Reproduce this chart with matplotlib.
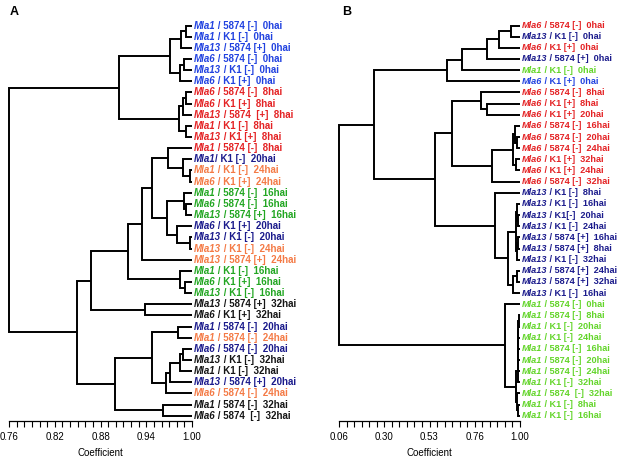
import matplotlib
matplotlib.use('Agg')
import matplotlib.pyplot as plt
from matplotlib.ticker import FixedLocator
import numpy as np

plt.rcParams['font.family'] = ['Liberation Sans', 'DejaVu Sans']

# ---- panel A: leaves top to bottom, colour by time point ----
labels_a = [
    'Mla1 / 5874 [-]  0hai', 'Mla1 / K1 [-]  0hai', 'Mla13 / 5874 [+]  0hai',
    'Mla6 / 5874 [-]  0hai', 'Mla13 / K1 [-]  0hai', 'Mla6 / K1 [+]  0hai',
    'Mla6 / 5874 [-]  8hai', 'Mla6 / K1 [+]  8hai', 'Mla13 / 5874  [+]  8hai',
    'Mla1 / K1 [-]  8hai', 'Mla13 / K1 [+]  8hai', 'Mla1 / 5874 [-]  8hai',
    'Mla1/ K1 [-]  20hai', 'Mla1 / K1 [-]  24hai', 'Mla6 / K1 [+]  24hai',
    'Mla1 / 5874 [-]  16hai', 'Mla6 / 5874 [-]  16hai', 'Mla13 / 5874 [+]  16hai',
    'Mla6 / K1 [+]  20hai', 'Mla13 / K1 [-]  20hai', 'Mla13 / K1 [-]  24hai',
    'Mla13 / 5874 [+]  24hai', 'Mla1 / K1 [-]  16hai', 'Mla6 / K1 [+]  16hai',
    'Mla13 / K1 [-]  16hai', 'Mla13 / 5874 [+]  32hai', 'Mla6 / K1 [+]  32hai',
    'Mla1 / 5874 [-]  20hai', 'Mla1 / 5874 [-]  24hai', 'Mla6 / 5874 [-]  20hai',
    'Mla13 / K1 [-]  32hai', 'Mla1 / K1 [-]  32hai', 'Mla13 / 5874 [+]  20hai',
    'Mla6 / 5874 [-]  24hai', 'Mla1 / 5874 [-]  32hai', 'Mla6 / 5874  [-]  32hai',
]
ticks_a = [0.76, 0.82, 0.88, 0.94, 1.00]
ticklabels_a = ['0.76', '0.82', '0.88', '0.94', '1.00']

# tree nodes: (coefficient, left, right), leaves are row indices
blue_a = (0.971, (0.986, (0.992, 0, 1), 2), (0.984, (0.990, 3, 4), 5))
red_a = (0.983, (0.988, (0.992, 6, 7), 8), (0.992, 9, 10))
top_a = (0.904, blue_a, red_a)
g12_a = (0.969, 11, (0.988, 12, (0.997, 13, 14)))
gn_a = (0.967, (0.989, 15, (0.992, 16, 17)), (0.980, 18, (0.997, 19, 20)))
mid_a = (0.916, (0.934, (0.947, g12_a, gn_a), 21), (0.984, 22, (0.991, 23, 24)))
upper_a = (0.868, mid_a, (0.939, 25, 26))
late_a = (0.966, (0.971, (0.984, (0.988, 29, 30), 31), 32), 33)
lower_a = (0.899, (0.948, (0.982, 27, 28), late_a), (0.962, 34, 35))
tree_a = (0.7605, top_a, (0.849, upper_a, lower_a))

# ---- panel B ----
labels_b = [
    'Mla6 / 5874 [-]  0hai', 'Mla13 / K1 [-]  0hai', 'Mla6 / K1 [+]  0hai',
    'Mla13 / 5874 [+]  0hai', 'Mla1 / K1 [-]  0hai', 'Mla6 / K1 [+]  0hai',
    'Mla6 / 5874 [-]  8hai', 'Mla6 / K1 [+]  8hai', 'Mla6 / K1 [+]  20hai',
    'Mla6 / 5874 [-]  16hai', 'Mla6 / 5874 [-]  20hai', 'Mla6 / 5874 [-]  24hai',
    'Mla6 / K1 [+]  32hai', 'Mla6 / K1 [+]  24hai', 'Mla6 / 5874 [-]  32hai',
    'Mla13 / K1 [-]  8hai', 'Mla13 / K1 [-]  16hai', 'Mla13 / K1[-]  20hai',
    'Mla13 / K1 [-]  24hai', 'Mla13 / 5874 [+]  16hai', 'Mla13 / 5874 [+]  8hai',
    'Mla13 / K1 [-]  32hai', 'Mla13 / 5874 [+]  24hai', 'Mla13 / 5874 [+]  32hai',
    'Mla13 / K1 [-]  16hai', 'Mla1 / 5874 [-]  0hai', 'Mla1 / 5874 [-]  8hai',
    'Mla1 / K1 [-]  20hai', 'Mla1 / K1 [-]  24hai', 'Mla1 / 5874 [-]  16hai',
    'Mla1 / 5874 [-]  20hai', 'Mla1 / 5874 [-]  24hai', 'Mla1 / K1 [-]  32hai',
    'Mla1 / 5874  [-]  32hai', 'Mla1 / K1 [-]  8hai', 'Mla1 / K1 [-]  16hai',
]
groups_b = ['red', 'navy', 'red', 'navy', 'lime', 'blue'] + ['red'] * 9 + ['navy'] * 10 + ['lime'] * 11
ticks_b = [0.06, 0.295, 0.53, 0.765, 1.00]
ticklabels_b = ['0.06', '0.30', '0.53', '0.76', '1.00']

early_b = (0.619, (0.697, (0.827, (0.891, (0.955, 0, 1), 2), 3), 4), 5)
red_b = (0.645, (0.796, 6, (0.827, 7, 8)),
         (0.853, (0.962, (0.975, 9, (0.985, 10, 11)), (0.980, 12, 13)), 14))
navy_b = (0.870, 15, (0.939, (0.978, (0.985, 16, (0.990, 17, 18)), (0.982, (0.990, 19, 20), 21)),
                      (0.962, (0.985, 22, 23), 24)))
chain_b = (0.988, (0.989, (0.990, (0.991, (0.992, (0.993, 26, 27), 28), 29), 30), 31), 32)
mla1_b = (0.922, 25, (0.979, chain_b, (0.985, 33, (0.990, 34, 35))))
tree_b = (0.062, (0.243, early_b, (0.558, red_b, navy_b)), mla1_b)

hai_colors = {'0hai': '#2142e0', '8hai': '#e42224', '16hai': '#22a622', '20hai': '#1b1b8c',
              '24hai': '#f47a45', '32hai': '#151515'}
group_colors = {'red': '#e42224', 'navy': '#1b1b8c', 'lime': '#63d52a', 'blue': '#2142e0'}
colors_a = [hai_colors[s.split()[-1]] for s in labels_a]
colors_b = [group_colors[g] for g in groups_b]


def draw_tree(ax, node):
    if isinstance(node, int):
        return float(node), 1.0
    h, left, right = node
    y1, x1 = draw_tree(ax, left)
    y2, x2 = draw_tree(ax, right)
    ax.plot([x1, h, h, x2], [y1, y1, y2, y2], color='black', lw=1.4,
            clip_on=False, solid_joinstyle='miter', solid_capstyle='butt')
    return (y1 + y2) / 2, h


def add_labels(ax, labels, colors, size):
    for i, (lab, c) in enumerate(zip(labels, colors)):
        gene = lab.split('/')[0].rstrip()
        rest = lab[len(gene):]
        t = ax.annotate(gene, xy=(1.0, i), xytext=(1.2, 0), textcoords='offset points',
                        ha='left', va='center', fontsize=size, fontweight='bold',
                        fontstyle='italic', color=c, annotation_clip=False)
        ax.annotate(rest, xy=(1, 0), xycoords=t, ha='left', va='bottom', fontsize=size,
                    fontweight='bold', color=c, annotation_clip=False)


def style_axis(ax, lo, ticks, ticklabels, minor):
    ax.set_xlim(lo, 1.0)
    ax.set_ylim(35.47, -2.02)
    for s in ['top', 'right', 'left']:
        ax.spines[s].set_visible(False)
    ax.spines['bottom'].set_linewidth(0.9)
    ax.set_yticks([])
    ax.xaxis.set_major_locator(FixedLocator(ticks))
    ax.set_xticklabels(ticklabels)
    ax.xaxis.set_minor_locator(FixedLocator(minor))
    ax.tick_params(axis='x', which='both', direction='out', length=4, width=0.8,
                   labelsize=7, pad=4)
    ax.set_xlabel('Coefficient', fontsize=7, labelpad=4)
    ax.patch.set_visible(False)


fig = plt.figure(figsize=(6.24, 4.59), dpi=100)
ax_a = fig.add_axes([9 / 624, 1 - 421 / 459, 183 / 624, 418 / 459])
ax_b = fig.add_axes([339 / 624, 1 - 421 / 459, 181 / 624, 418 / 459])

draw_tree(ax_a, tree_a)
add_labels(ax_a, labels_a, colors_a, 7.0)
style_axis(ax_a, 0.76, ticks_a, ticklabels_a, np.linspace(0.76, 1.0, 25))

draw_tree(ax_b, tree_b)
add_labels(ax_b, labels_b, colors_b, 6.6)
style_axis(ax_b, 0.06, ticks_b, ticklabels_b, np.linspace(0.06, 1.0, 25))

fig.text(10 / 624, 1 - 12 / 459, 'A', fontsize=9, fontweight='bold', va='center')
fig.text(342 / 624, 1 - 12 / 459, 'B', fontsize=9, fontweight='bold', va='center')

fig.savefig('out.png', dpi=100)
